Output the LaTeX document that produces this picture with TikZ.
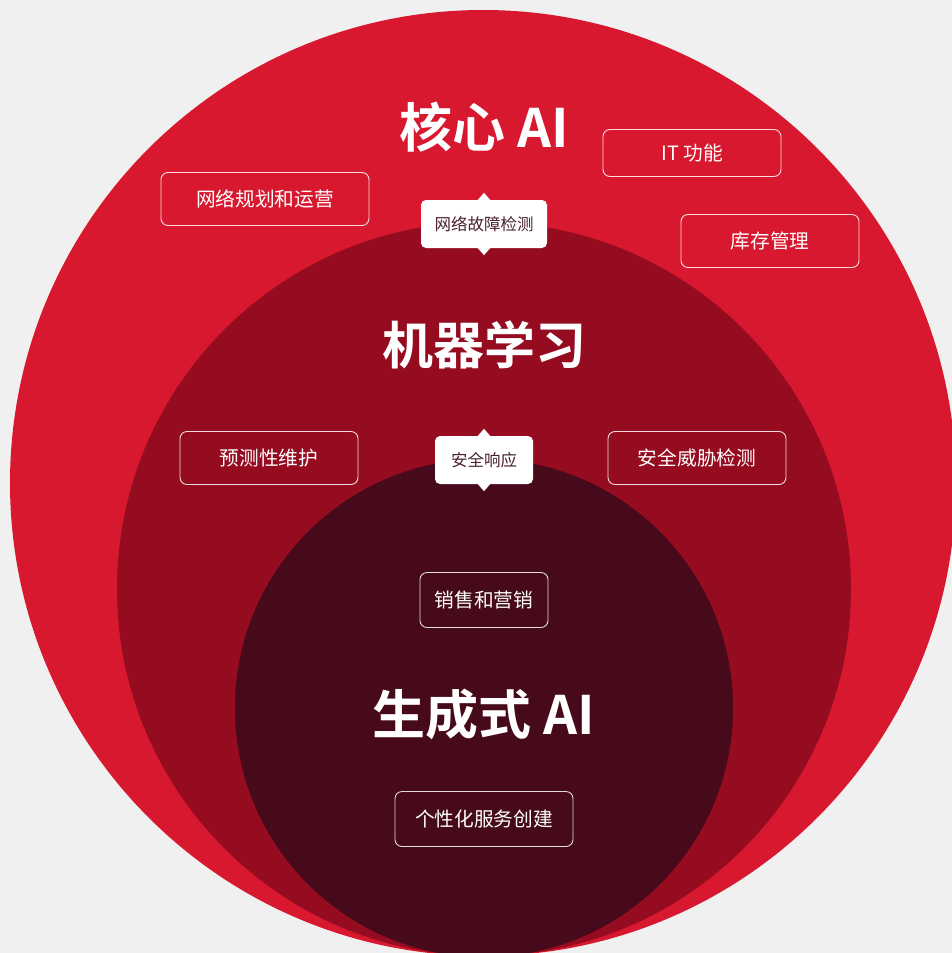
\documentclass[tikz,border=0pt]{standalone}
\usepackage{fontspec}
\setmainfont{Noto Sans CJK SC}[BoldFont={Noto Sans CJK SC Bold}]
\definecolor{bggray}{HTML}{F0F0F0}
\definecolor{corered}{HTML}{D7182F}
\definecolor{mlred}{HTML}{950B20}
\definecolor{genred}{HTML}{460A1A}
\definecolor{tiptext}{HTML}{4A2030}

\begin{document}
\begin{tikzpicture}[x=1pt, y=-1pt, every node/.style={text=white, font=\fontsize{19.7}{22}\selectfont},
	tag/.style={draw=white, draw opacity=0.85, line width=0.9pt, rounded corners=7pt, minimum width=178pt, minimum height=53pt, inner sep=0pt},
	tip/.style={fill=white, rounded corners=5pt, text=tiptext, minimum height=48pt, inner sep=0pt, font=\fontsize{16.5}{20}\selectfont},
	title/.style={font=\fontsize{53}{60}\selectfont\bfseries}]
	
	% Background
	\fill[bggray] (0,0) rectangle (952,953);
	\useasboundingbox (0,0) rectangle (952,953);
	\clip (0,0) rectangle (952,953);
	
	% Circles
	\fill[corered] (483,483) circle (473pt);
	\fill[mlred] (484,589) circle (367pt);
	\fill[genred] (484,708) circle (249pt);
	
	% Core AI
	\node[title] (core) at (484,127) {核心 AI};
	\node[tag, minimum width=208pt] (plan) at (265,199) {网络规划和运营};
	\node[tag, minimum height=47pt] (itfunc) at (692,153) {IT 功能};
	\node[tag] (stock) at (770,241) {库存管理};
	
	% Machine learning
	\node[title, font=\fontsize{51}{60}\selectfont\bfseries] (ml) at (484,345) {机器学习};
	\node[tag] (maint) at (269,458) {预测性维护};
	\node[tag] (threat) at (697,458) {安全威胁检测};
	
	% Generative AI
	\node[title] (gen) at (484,714) {生成式 AI};
	\node[tag, minimum width=128pt, minimum height=55pt] (sales) at (484,600) {销售和营销};
	\node[tag, minimum height=55pt] (service) at (484,819) {个性化服务创建};
	
	% Tips on the borders
	\node[tip, minimum width=126pt] (fault) at (484,224) {网络故障检测};
	\node[tip, minimum width=98pt] (resp) at (484,460) {安全响应};
	\foreach \t in {fault, resp} {
		\fill[white] ([xshift=-7pt,yshift=-1pt]\t.north) -- ++(7pt,8pt) -- ++(7pt,-8pt) -- cycle;
		\fill[white] ([xshift=-7pt,yshift=1pt]\t.south) -- ++(7pt,-8pt) -- ++(7pt,8pt) -- cycle;
	}
	
\end{tikzpicture}
\end{document}
